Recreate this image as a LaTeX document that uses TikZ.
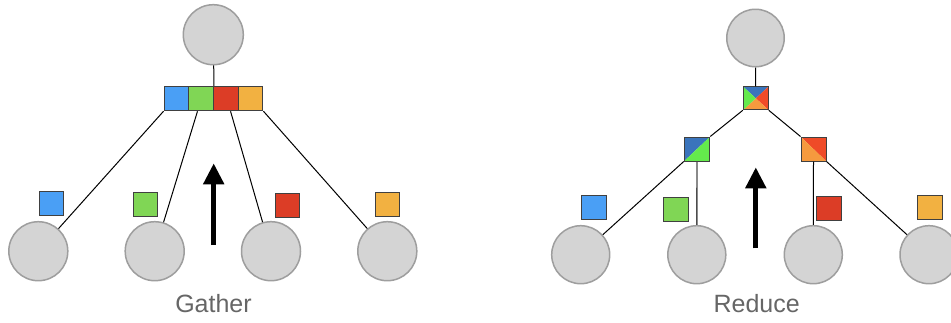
\documentclass[tikz,border=0pt]{standalone}
\usepackage{fontspec}
\setmainfont{Liberation Sans}
\usetikzlibrary{arrows.meta,calc}
\definecolor{cfill}{HTML}{D4D4D4}
\definecolor{cdraw}{HTML}{9E9E9E}
\definecolor{sqb}{HTML}{4A9FF5}
\definecolor{sqg}{HTML}{80D655}
\definecolor{sqr}{HTML}{DC3D26}
\definecolor{sqo}{HTML}{F2B141}
\definecolor{mb}{HTML}{3A74BC}
\definecolor{mg}{HTML}{64EA4C}
\definecolor{mr}{HTML}{EF4B28}
\definecolor{mo}{HTML}{F59A3E}
\definecolor{txt}{HTML}{666666}
\tikzset{
  proc/.style={circle,draw=cdraw,fill=cfill,line width=1.5pt,minimum size=59pt,inner sep=0pt},
  sq/.style={draw=black!75,line width=1pt,minimum width=24.5pt,minimum height=24pt,inner sep=0pt},
  link/.style={draw=black,line width=1pt},
  vlink/.style={draw=black!70,line width=1.4pt},
  bigarrow/.style={line width=5pt,-{Triangle[length=21pt,width=20pt]}},
  lbl/.style={text=txt,font=\fontsize{25}{30}\selectfont},
  quad/.style={path picture={
    \fill[mb] (path picture bounding box.north west) -- (path picture bounding box.north east) -- (path picture bounding box.center) -- cycle;
    \fill[mr] (path picture bounding box.north east) -- (path picture bounding box.south east) -- (path picture bounding box.center) -- cycle;
    \fill[mo] (path picture bounding box.south east) -- (path picture bounding box.south west) -- (path picture bounding box.center) -- cycle;
    \fill[mg] (path picture bounding box.south west) -- (path picture bounding box.north west) -- (path picture bounding box.center) -- cycle;}},
  halfbg/.style={path picture={
    \fill[mb] (path picture bounding box.north west) -- (path picture bounding box.north east) -- (path picture bounding box.south west) -- cycle;
    \fill[mg] (path picture bounding box.north east) -- (path picture bounding box.south east) -- (path picture bounding box.south west) -- cycle;}},
  halfro/.style={path picture={
    \fill[mr] (path picture bounding box.north west) -- (path picture bounding box.north east) -- (path picture bounding box.south east) -- cycle;
    \fill[mo] (path picture bounding box.north west) -- (path picture bounding box.south east) -- (path picture bounding box.south west) -- cycle;}}
}
\begin{document}
\begin{tikzpicture}[x=1pt,y=-1pt]
\clip (0,0) rectangle (951,322);
\fill[white] (0,0) rectangle (951,322);

% ---------------- Gather ----------------
\node[proc,minimum size=60pt] (gtop) at (213.3,34.7) {};
\node[sq,fill=sqb,minimum width=24.75pt,minimum height=24.5pt] (gb1) at (176.4,98.5) {};
\node[sq,fill=sqg,minimum width=24.75pt,minimum height=24.5pt] (gb2) at (201.1,98.5) {};
\node[sq,fill=sqr,minimum width=24.75pt,minimum height=24.5pt] (gb3) at (225.9,98.5) {};
\node[sq,fill=sqo,minimum width=24.75pt,minimum height=24.5pt] (gb4) at (250.6,98.5) {};
\node[proc] (g1) at (38.3,251.2) {};
\node[proc] (g2) at (154.7,251.2) {};
\node[proc] (g3) at (271,251.2) {};
\node[proc] (g4) at (387.3,251.2) {};
\node[sq,fill=sqb] (gs1) at (51.5,203.5) {};
\node[sq,fill=sqg] (gs2) at (145.5,204) {};
\node[sq,fill=sqr] (gs3) at (287.5,205) {};
\node[sq,fill=sqo] (gs4) at (387.5,204) {};
\draw[link] (gtop) -- (gb2.north east);
\draw[link] (gb1.south west) -- (g1);
\draw[link] ($(gb2.south west)!0.36!(gb2.south east)$) -- (g2);
\draw[link] ($(gb3.south west)!0.68!(gb3.south east)$) -- (g3);
\draw[link] (gb4.south east) -- (g4);
\coordinate (ga0) at (213.7,245);
\coordinate (ga1) at (213.7,163.3);
\draw[bigarrow] (ga0) -- (ga1);
\node[lbl] (glbl) at (213.5,304) {Gather};

% ---------------- Reduce ----------------
\node[proc,minimum size=57.5pt] (rtop) at (755.5,38) {};
\node[sq,quad,minimum width=25pt,minimum height=23pt] (rt) at (755.8,98.3) {};
\node[sq,halfbg,minimum width=25.5pt,minimum height=24pt] (ml) at (697,149) {};
\node[sq,halfro,minimum width=25pt,minimum height=24pt] (mrq) at (813.5,149) {};
\node[proc,minimum size=58pt] (r1) at (580.7,254.7) {};
\node[proc,minimum size=58pt] (r2) at (696.8,254.7) {};
\node[proc,minimum size=58pt] (r3) at (813.3,254.7) {};
\node[proc,minimum size=58pt] (r4) at (929,254.7) {};
\node[sq,fill=sqb] (rs1) at (594,207.5) {};
\node[sq,fill=sqg] (rs2) at (676.2,209) {};
\node[sq,fill=sqr] (rs3) at (829.2,208.5) {};
\node[sq,fill=sqo] (rs4) at (930,207) {};
\draw[link] (rtop) -- (rt);
\draw[link] (rt.south west) -- (ml.north east);
\draw[link] (rt.south east) -- (mrq.north west);
\draw[link] (ml.south west) -- (r1);
\draw[vlink] (ml.south) -- (r2);
\draw[link] (mrq.south) -- (r3);
\draw[link] (mrq.south east) -- (r4);
\coordinate (ra0) at (755.8,248.3);
\coordinate (ra1) at (755.8,167.3);
\draw[bigarrow] (ra0) -- (ra1);
\node[lbl] (rlbl) at (756.7,304) {Reduce};
\end{tikzpicture}
\end{document}
